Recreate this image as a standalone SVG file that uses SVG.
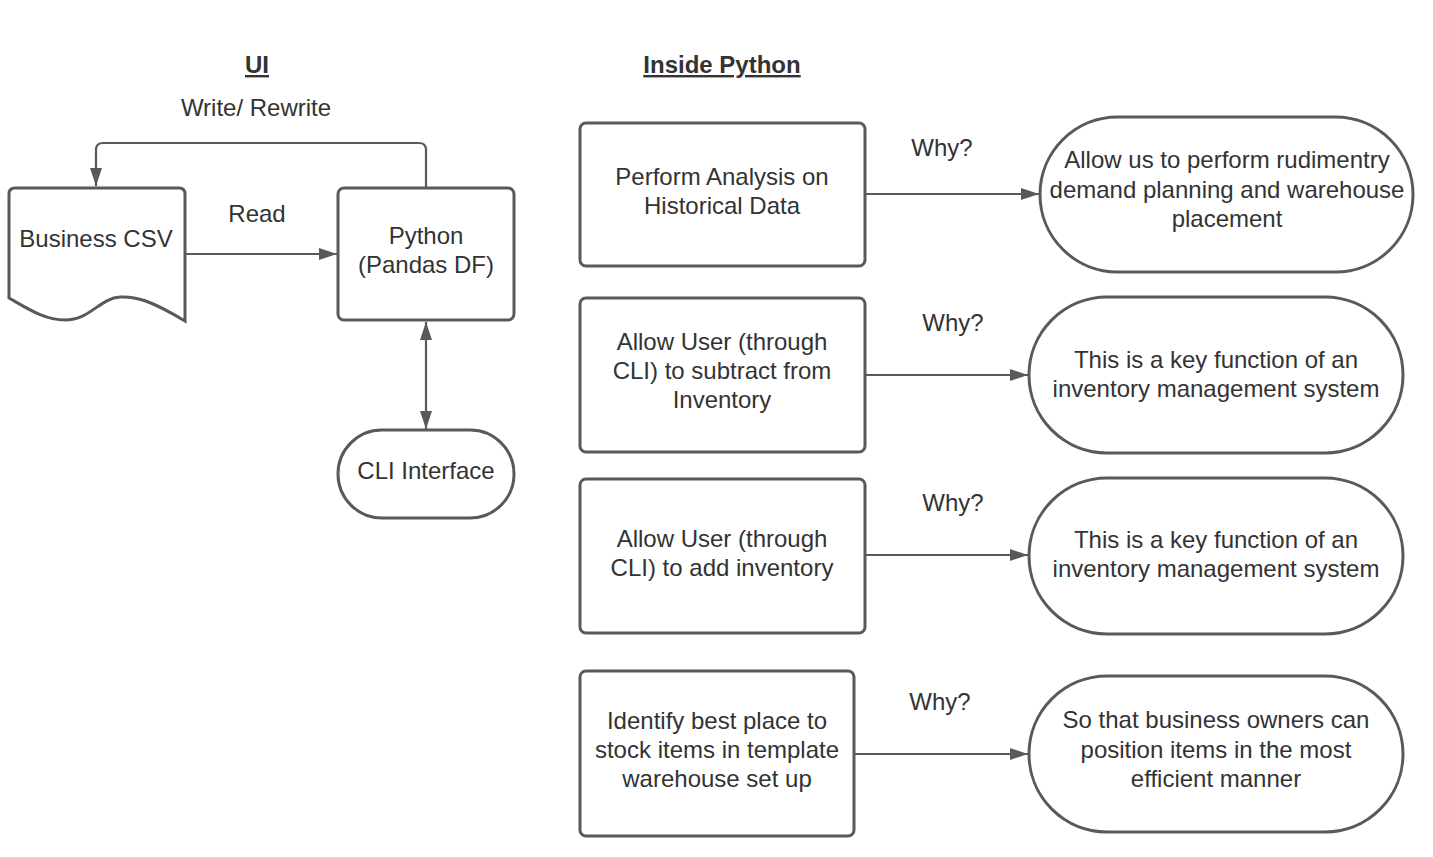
<svg xmlns="http://www.w3.org/2000/svg" width="1433" height="857" viewBox="0 0 1433 857">
<defs>
<style>
.s{fill:#fff;stroke:#595959;stroke-width:3}
.c{fill:none;stroke:#595959;stroke-width:2.2}
text{font-family:"Liberation Sans",Arial,sans-serif;font-size:24px;fill:#333;text-anchor:middle}
.h{font-weight:bold;text-decoration:underline}
</style>
<marker id="a" viewBox="0 0 18 14" refX="18" refY="7" markerWidth="18" markerHeight="14" markerUnits="userSpaceOnUse" orient="auto-start-reverse">
<path d="M0,1 L18,7 L0,13 Z" fill="#595959"/>
</marker>
</defs>
<rect width="1433" height="857" fill="#fff"/>
<g id="titles">
<text class="h" x="257" y="73">UI</text>
<text class="h" x="722" y="73">Inside Python</text>
</g>
<g id="connectors">
<path class="c" d="M426,188 V150 Q426,143 419,143 H103 Q96,143 96,150 V186" marker-end="url(#a)"/>
<path class="c" d="M185,254 H337" marker-end="url(#a)"/>
<path class="c" d="M426,322 V429" marker-start="url(#a)" marker-end="url(#a)"/>
<path class="c" d="M865,194 H1039" marker-end="url(#a)"/>
<path class="c" d="M865,375 H1028" marker-end="url(#a)"/>
<path class="c" d="M865,555 H1028" marker-end="url(#a)"/>
<path class="c" d="M854,754 H1028" marker-end="url(#a)"/>
<text x="256" y="116">Write/ Rewrite</text>
<text x="257" y="222">Read</text>
<text x="942" y="156">Why?</text>
<text x="953" y="331">Why?</text>
<text x="953" y="511">Why?</text>
<text x="940" y="710">Why?</text>
</g>
<g id="business-csv">
<path class="s" d="M15,188 H179 Q185,188 185,194 V321 C150,300 135,296 120,297 C100,298 90,320 65,320 C45,320 30,310 9,298 V194 Q9,188 15,188 Z"/>
<text x="96" y="247">Business CSV</text>
</g>
<g id="python">
<rect class="s" x="338" y="188" width="176" height="132" rx="6"/>
<text x="426" y="244">Python</text>
<text x="426" y="273">(Pandas DF)</text>
</g>
<g id="cli">
<rect class="s" x="338" y="430" width="176" height="88" rx="44"/>
<text x="426" y="479">CLI Interface</text>
</g>
<g id="analysis">
<rect class="s" x="580" y="123" width="285" height="143" rx="6"/>
<text x="722" y="185">Perform Analysis on</text>
<text x="722" y="214">Historical Data</text>
</g>
<g id="analysis-why">
<rect class="s" x="1040" y="117" width="373" height="155" rx="77.5"/>
<text x="1227" y="168">Allow us to perform rudimentry</text>
<text x="1227" y="198">demand planning and warehouse</text>
<text x="1227" y="227">placement</text>
</g>
<g id="subtract">
<rect class="s" x="580" y="298" width="285" height="154" rx="6"/>
<text x="722" y="350">Allow User (through</text>
<text x="722" y="379">CLI) to subtract from</text>
<text x="722" y="408">Inventory</text>
</g>
<g id="subtract-why">
<rect class="s" x="1029" y="297" width="374" height="156" rx="78"/>
<text x="1216" y="368">This is a key function of an</text>
<text x="1216" y="397">inventory management system</text>
</g>
<g id="add">
<rect class="s" x="580" y="479" width="285" height="154" rx="6"/>
<text x="722" y="547">Allow User (through</text>
<text x="722" y="576">CLI) to add inventory</text>
</g>
<g id="add-why">
<rect class="s" x="1029" y="478" width="374" height="156" rx="78"/>
<text x="1216" y="548">This is a key function of an</text>
<text x="1216" y="577">inventory management system</text>
</g>
<g id="place">
<rect class="s" x="580" y="671" width="274" height="165" rx="6"/>
<text x="717" y="729">Identify best place to</text>
<text x="717" y="758">stock items in template</text>
<text x="717" y="787">warehouse set up</text>
</g>
<g id="place-why">
<rect class="s" x="1029" y="676" width="374" height="156" rx="78"/>
<text x="1216" y="728">So that business owners can</text>
<text x="1216" y="758">position items in the most</text>
<text x="1216" y="787">efficient manner</text>
</g>
</svg>
